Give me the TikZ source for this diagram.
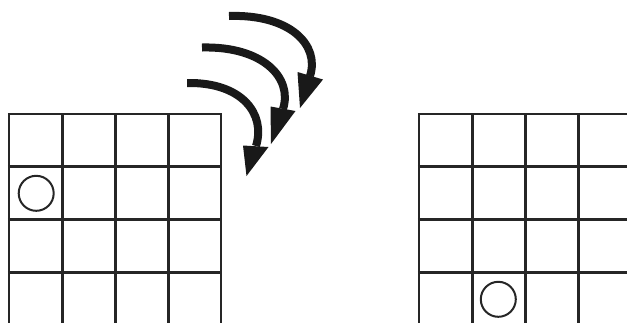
\documentclass[tikz,border=0pt]{standalone}
\begin{document}
\begin{tikzpicture}[x=1pt,y=-1pt,
  gridline/.style={line width=2.5pt,draw=black!85},
  token/.style={circle,draw=black!85,line width=2pt,minimum size=35pt,inner sep=0pt},
  shaft/.style={line width=8pt,draw=black!90,line cap=butt},
  head/.style={fill=black!90}]
\useasboundingbox (0,0) rectangle (627,322);
% left grid
\foreach \x in {9,62.3,115.7,168.3,221} \draw[gridline] (\x,114) -- (\x,323);
\foreach \y in {114,166.7,219.3,272.7} \draw[gridline] (7.75,\y) -- (222.25,\y);
% right grid
\foreach \x in {419,472.3,525.7,578.3} \draw[gridline] (\x,114) -- (\x,323);
\foreach \y in {114,166.7,219.3,272.7} \draw[gridline] (417.75,\y) -- (628,\y);
% tokens
\node[token] (tokA) at (36.2,193.3) {};
\node[token] (tokB) at (498.3,299.3) {};
% arrows
\draw[shaft] (229,16) .. controls (290,14) and (320,45) .. (310,76);
\fill[head] (297.5,72) -- (323,79.5) -- (300,108) -- cycle;
\draw[shaft] (202,47.5) .. controls (263,46) and (293,78) .. (283,109);
\fill[head] (270.5,106.5) -- (295.5,111) -- (271,144) -- cycle;
\draw[shaft] (187,83) .. controls (242,82) and (266,114) .. (256,146);
\fill[head] (243,145.5) -- (268.5,147) -- (246.5,176) -- cycle;
\end{tikzpicture}
\end{document}
